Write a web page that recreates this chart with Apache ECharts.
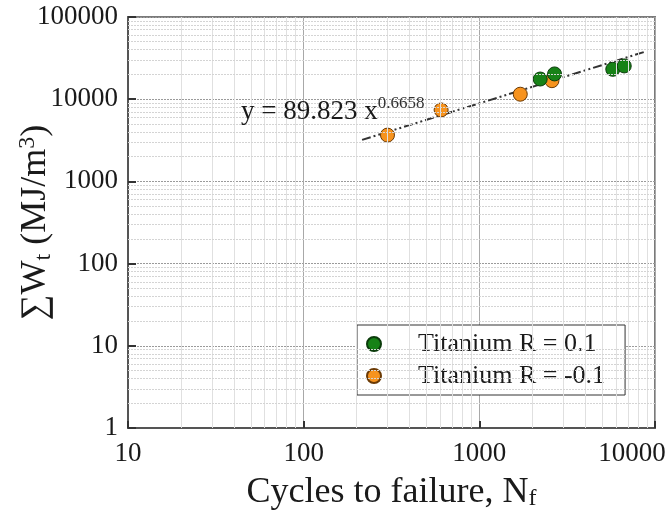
<!DOCTYPE html>
<html>
<head>
<meta charset="utf-8">
<script src="https://cdn.jsdelivr.net/npm/echarts@6/dist/echarts.min.js"></script>
<style>
  html, body { margin: 0; padding: 0; background: #fff; }
  #chart { width: 669px; height: 512px; }
</style>
</head>
<body>
<div id="chart"></div>
<script>
// 数据
var cyclesR01 = [2220, 2680, 5750, 6680];
var energyR01 = [17600, 20300, 23100, 25400];
var cyclesRm01 = [300, 606, 1710, 2590];
var energyRm01 = [3660, 7400, 11500, 16800];
// 拟合线 y = 89.823 x^0.6658 的两个端点
var fitCycles = [215, 8700];
var fitEnergy = [3200, 37600];
var xDecades = [10, 100, 1000];
var yDecades = [1, 10, 100, 1000, 10000];
var minorSteps = [2, 3, 4, 5, 6, 7, 8, 9];

var serif = 'Liberation Serif';

function pairs(xs, ys) {
  return xs.map(function (x, i) { return [x, ys[i]]; });
}

// 次网格线
var gridMarks = [];
xDecades.forEach(function (d) {
  minorSteps.forEach(function (m) {
    gridMarks.push({ xAxis: m * d, lineStyle: { color: '#e0e0e0', width: 1, type: 'solid' } });
  });
});
yDecades.forEach(function (d) {
  minorSteps.forEach(function (m) {
    gridMarks.push({ yAxis: m * d, lineStyle: { color: '#d4d4d4', width: 1, type: [2, 1] } });
  });
});

(function () {
  var myChart = echarts.init(document.getElementById('chart'));
  var option = {
    animation: false,
    backgroundColor: '#fff',
    grid: {
      left: 128,
      right: 14,
      top: 17,
      bottom: 84,
      outerBoundsMode: 'none',
      show: true,
      borderColor: '#7a7a7a',
      borderWidth: 2,
      backgroundColor: 'transparent'
    },
    xAxis: {
      type: 'log',
      logBase: 10,
      min: 10,
      max: 10000,
      name: 'Cycles to failure, N{sub|f}',
      nameLocation: 'middle',
      nameGap: 47,
      nameMoveOverlap: false,
      nameTextStyle: {
        fontFamily: serif,
        fontSize: 36,
        color: '#1a1a1a',
        rich: {
          sub: { fontFamily: serif, fontSize: 24, color: '#1a1a1a', verticalAlign: 'bottom', lineHeight: 36 }
        }
      },
      axisLine: { show: true, lineStyle: { color: '#555', width: 2 } },
      axisTick: { show: true, inside: true, length: 7, lineStyle: { color: '#333', width: 2 } },
      axisLabel: {
        fontFamily: serif,
        fontSize: 27,
        color: '#1a1a1a',
        margin: 12,
        formatter: function (v) {
          return v === 10000 ? '{last|' + v + '}' : String(v);
        },
        rich: {
          last: { fontFamily: serif, fontSize: 27, color: '#1a1a1a', padding: [0, 46, 0, 0] }
        }
      },
      splitLine: { show: true, lineStyle: { color: '#a8a8a8', width: 1 } }
    },
    yAxis: {
      type: 'log',
      logBase: 10,
      min: 1,
      max: 100000,
      name: '\u2211W{sub|t} (MJ/m{sup|3})',
      nameLocation: 'middle',
      nameRotate: 90,
      nameGap: 72,
      nameMoveOverlap: false,
      nameTextStyle: {
        fontFamily: serif,
        fontSize: 36,
        color: '#1a1a1a',
        rich: {
          sub: { fontFamily: serif, fontSize: 24, color: '#1a1a1a', verticalAlign: 'bottom', lineHeight: 40 },
          sup: { fontFamily: serif, fontSize: 24, color: '#1a1a1a', verticalAlign: 'top', lineHeight: 24 }
        }
      },
      axisLine: { show: true, lineStyle: { color: '#555', width: 2 } },
      axisTick: { show: true, inside: true, length: 8, lineStyle: { color: '#333', width: 2 } },
      axisLabel: {
        fontFamily: serif,
        fontSize: 27,
        color: '#1a1a1a',
        margin: 10,
        formatter: function (v) { return String(v); }
      },
      splitLine: { show: true, lineStyle: { color: '#9a9a9a', width: 1, type: [2, 1] } }
    },
    legend: {
      orient: 'vertical',
      left: 357,
      top: 325,
      data: ['Titanium R = 0.1', 'Titanium R = -0.1'],
      backgroundColor: '#fff',
      borderColor: '#333',
      borderWidth: 1,
      borderRadius: 0,
      padding: [6, 20, 6, 9],
      itemGap: 6,
      itemWidth: 14,
      itemHeight: 14,
      icon: 'circle',
      textStyle: {
        fontFamily: serif,
        fontSize: 26,
        color: '#1a1a1a',
        padding: [0, 0, 0, 32]
      }
    },
    graphic: [
      {
        type: 'text',
        left: 241,
        top: 95,
        z: 10,
        style: {
          text: 'y = 89.823 x{sup|0.6658}',
          fontFamily: serif,
          fontSize: 27,
          fill: '#1a1a1a',
          lineHeight: 34,
          rich: {
            sup: { fontFamily: serif, fontSize: 17, fill: '#333', verticalAlign: 'top', lineHeight: 17 }
          }
        }
      }
    ],
    series: [
      {
        name: 'grid',
        type: 'line',
        data: [],
        z: 1,
        silent: true,
        markLine: {
          silent: true,
          symbol: 'none',
          label: { show: false },
          animation: false,
          data: gridMarks
        }
      },
      {
        name: 'fit',
        type: 'line',
        data: pairs(fitCycles, fitEnergy),
        showSymbol: false,
        symbol: 'none',
        z: 2,
        lineStyle: { color: '#333', width: 2, type: [9, 3, 2, 3, 2, 3] }
      },
      {
        name: 'Titanium R = -0.1',
        type: 'scatter',
        data: pairs(cyclesRm01, energyRm01),
        symbol: 'circle',
        symbolSize: 14,
        z: 3,
        itemStyle: { color: '#f7931e', borderColor: '#6b3a05', borderWidth: 1, opacity: 1 }
      },
      {
        name: 'Titanium R = 0.1',
        type: 'scatter',
        data: pairs(cyclesR01, energyR01),
        symbol: 'circle',
        symbolSize: 14,
        z: 3,
        itemStyle: { color: '#178217', borderColor: '#0b3b0b', borderWidth: 1, opacity: 1 }
      }
    ]
  };
  myChart.setOption(option);
  window.addEventListener('resize', function () {
    myChart.resize();
  });
})();
</script>
</body>
</html>
